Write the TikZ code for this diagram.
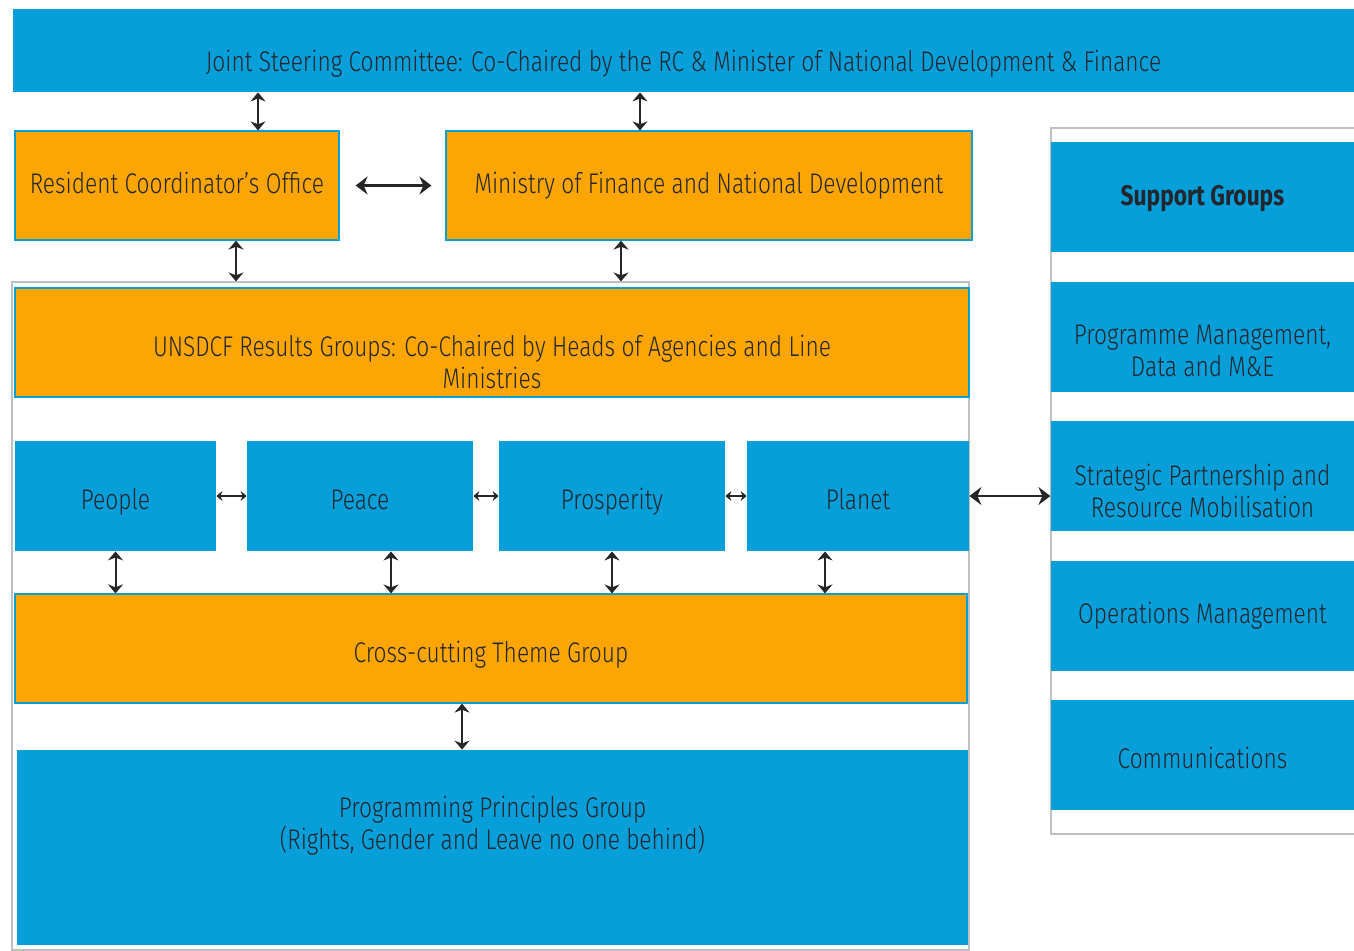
\documentclass[tikz,border=0pt]{standalone}
\usepackage{fontspec}
\setmainfont{Fira Sans}[UprightFont=* Light, BoldFont=* Bold, FakeStretch=0.80]
\usetikzlibrary{arrows.meta,positioning}
\definecolor{unblue}{HTML}{079FDA}
\definecolor{unorange}{HTML}{FDA502}
\definecolor{ink}{HTML}{23272D}
\tikzset{box/.style={rectangle, inner sep=0pt, text=ink, font=\fontsize{14.2}{16}\selectfont, align=center, text height=9.5pt, text depth=2pt},
    sunk/.style={text height=15.5pt},
    bluebox/.style={box, fill=unblue},
    orangebox/.style={box, fill=unorange, draw=unblue, line width=0.6pt},
    frame/.style={rectangle, draw=black!25, line width=0.6pt, inner sep=0pt},
    link/.style={{Stealth[length=4.5pt,width=7.5pt]}-{Stealth[length=4.5pt,width=7.5pt]}, line width=1pt, draw=black!85},
    biglink/.style={{Stealth[length=6pt,width=9pt,inset=2pt]}-{Stealth[length=6pt,width=9pt,inset=2pt]}, line width=1.1pt, draw=black!85},
    tinylink/.style={{Stealth[length=3pt,width=5pt]}-{Stealth[length=3pt,width=5pt]}, line width=0.8pt, draw=black!85},
    txt/.style={text=ink, font=\fontsize{14.2}{16}\selectfont, align=center}}

\begin{document}
\begin{tikzpicture}[x=0.5pt, y=-0.5pt]
    \useasboundingbox (0,0) rectangle (1354,950);
    % outer frames
    \node[frame, minimum width=478.5pt, minimum height=334pt] (leftframe) at (490.5,616) {};
    \node[frame, minimum width=154.5pt, minimum height=353pt] (rightframe) at (1205.5,481) {};
    % top level
    \node[bluebox, minimum width=670.5pt, minimum height=41.5pt, label={[txt, yshift=-6.75pt]center:Joint Steering Committee: Co-Chaired by the RC \& Minister of National Development \& Finance}] (jsc) at (683.5,50.5) {};
    \node[orangebox, minimum width=162pt, minimum height=54.5pt] (rco) at (177,185.5) {Resident Coordinator’s Office};
    \node[orangebox, minimum width=263pt, minimum height=54.5pt] (mof) at (709,185.5) {Ministry of Finance and National Development};
    % results groups
    \node[orangebox, minimum width=477pt, minimum height=54.5pt, label={[txt, yshift=-9.75pt]center:UNSDCF Results Groups: Co-Chaired by Heads of Agencies and Line\\Ministries}] (results) at (492,342.5) {};
    \node[bluebox, sunk, minimum width=100.5pt, minimum height=55pt] (people) at (115.5,496) {People};
    \node[bluebox, sunk, minimum width=113pt, minimum height=55pt] (peace) at (360,496) {Peace};
    \node[bluebox, sunk, minimum width=113pt, minimum height=55pt] (prosperity) at (612,496) {Prosperity};
    \node[bluebox, sunk, minimum width=111pt, minimum height=55pt] (planet) at (858,496) {Planet};
    \node[orangebox, sunk, minimum width=476pt, minimum height=54.5pt] (cross) at (491,648.5) {Cross-cutting Theme Group};
    \node[bluebox, minimum width=475.5pt, minimum height=97.5pt, label={[txt, yshift=10.75pt]center:Programming Principles Group\\(Rights, Gender and Leave no one behind)}] (principles) at (492.5,847.5) {};
    % support groups
    \node[bluebox, minimum width=151.5pt, minimum height=55pt, text height=10.5pt, font=\fontsize{14.2}{16}\selectfont\bfseries] (support) at (1202.5,197) {Support Groups};
    \node[bluebox, minimum width=151.5pt, minimum height=55pt, label={[txt, yshift=-7pt]center:Programme Management,\\Data and M\&E}] (progmgmt) at (1202.5,337) {};
    \node[bluebox, minimum width=151.5pt, minimum height=55pt, label={[txt, yshift=-7.5pt]center:Strategic Partnership and\\Resource Mobilisation}] (partner) at (1202.5,476) {};
    \node[bluebox, minimum width=151.5pt, minimum height=55pt] (operations) at (1202.5,616) {Operations Management};
    \node[bluebox, sunk, minimum width=151.5pt, minimum height=55pt] (comms) at (1202.5,755) {Communications};
    % connectors
    \draw[link] ([xshift=40.5pt]rco.north) -- ([xshift=40.5pt]rco.north |- jsc.south);
    \draw[link] ([xshift=-34.5pt]mof.north) -- ([xshift=-34.5pt]mof.north |- jsc.south);
    \draw[biglink, shorten <=8pt, shorten >=7pt] (rco) -- (mof);
    \draw[link] ([xshift=29.5pt]rco.south) -- ([xshift=29.5pt]rco.south |- leftframe.north);
    \draw[link] ([xshift=-44pt]mof.south) -- ([xshift=-44pt]mof.south |- leftframe.north);
    \draw[tinylink] (people) -- (peace);
    \draw[tinylink] (peace) -- (prosperity);
    \draw[tinylink] (prosperity) -- (planet);
    \draw[biglink] (planet.east) -- (planet.east -| rightframe.west);
    \draw[link] (people.south) -- (people.south |- cross.north);
    \draw[link] ([xshift=15.5pt]peace.south) -- ([xshift=15.5pt]peace.south |- cross.north);
    \draw[link] (prosperity.south) -- (prosperity.south |- cross.north);
    \draw[link] ([xshift=-16.5pt]planet.south) -- ([xshift=-16.5pt]planet.south |- cross.north);
    \draw[link] ([xshift=-14.5pt]cross.south) -- ([xshift=-14.5pt]cross.south |- principles.north);
\end{tikzpicture}
\end{document}
